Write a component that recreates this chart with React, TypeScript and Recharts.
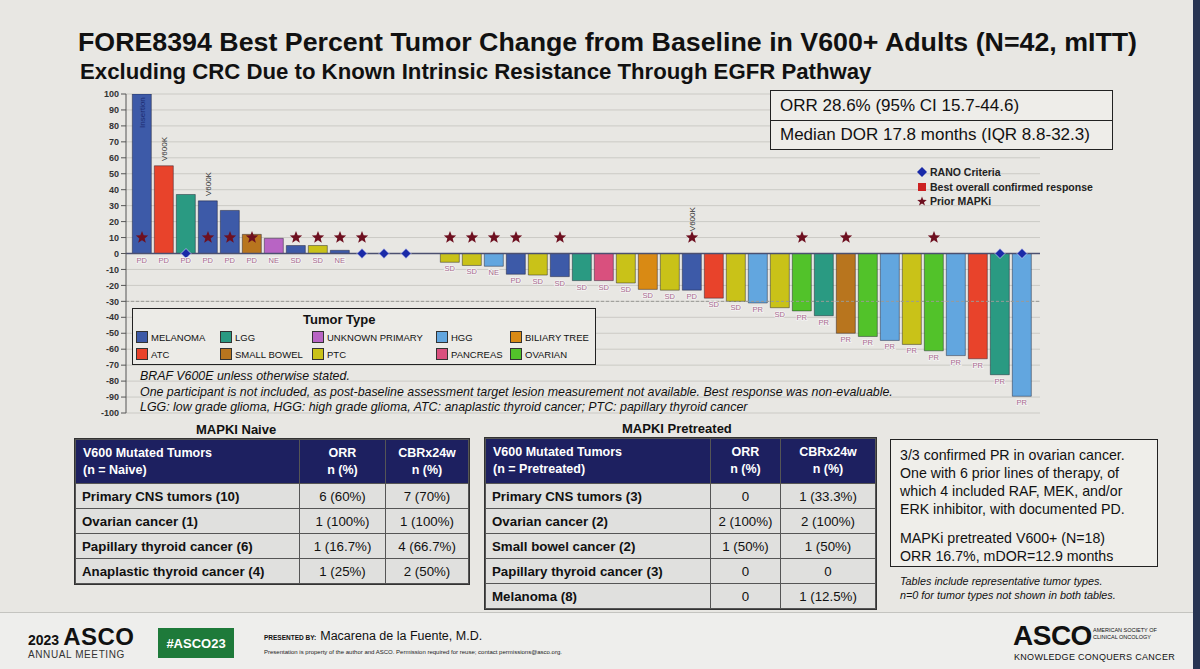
import React from 'react';
import {
  ComposedChart, Bar, Cell, XAxis, YAxis, CartesianGrid, ReferenceLine, Scatter, LabelList,
} from 'recharts';

// ---------- DATA ----------
const barIds = ['1','2','3','4','5','6','7','8','9','10','11','12','13','14','15','16','17','18','19','20','21','22','23','24','25','26','27','28','29','30','31','32','33','34','35','36','37','38','39','40','41'];
const tumorTypes = ['MEL','ATC','LGG','MEL','MEL','SB','UNK','MEL','PTC','MEL','LGG','HGG','LGG','PTC','PTC','PTC','HGG','MEL','PTC','MEL','LGG','PAN','PTC','BIL','PTC','MEL','ATC','PTC','HGG','PTC','OVA','LGG','SB','OVA','HGG','PTC','OVA','HGG','ATC','LGG','HGG'];
const changePct = [100, 55, 37, 33, 27, 12, 9.5, 5, 5, 2, 0, 0, 0, 0, -5.5, -7.5, -8, -13, -13.5, -14.5, -17, -17, -18.5, -22.5, -23, -23, -28, -30, -31, -34, -36, -39, -50, -52, -54.5, -57, -61, -64, -66, -76, -89.5];
const responses = ['PD','PD','PD','PD','PD','PD','NE','SD','SD','NE','SD','SD','SD','SD','SD','SD','NE','PD','SD','SD','SD','SD','SD','SD','SD','PD','SD','SD','PR','SD','PR','PR','PR','PR','PR','PR','PR','PR','PR','PR','PR'];
const priorMapki = [1,0,0,1,1,1,0,1,1,1,1,0,0,0,1,1,1,1,0,1,0,0,0,0,0,1,0,0,0,0,1,0,1,0,0,0,1,0,0,0,0];
const ranoCriteria = [0,0,1,0,0,0,0,0,0,0,1,1,1,0,0,0,0,0,0,0,0,0,0,0,0,0,0,0,0,0,0,0,0,0,0,0,0,0,0,1,1];
const variantNotes = ['Insertion','V600K','','V600K','','','','','','','','','','','','','','','','','','','','','','V600K','','','','','','','','','','','','','','',''];
const variantNoteAt = [98, 58, null, 36, null, null, null, null, null, null, null, null, null, null, null, null, null, null, null, null, null, null, null, null, null, 14, null, null, null, null, null, null, null, null, null, null, null, null, null, null, null];
const starLevel = 10;
const yTicks = [100, 90, 80, 70, 60, 50, 40, 30, 20, 10, 0, -10, -20, -30, -40, -50, -60, -70, -80, -90, -100];

const typeColors: Record<string, string> = {
  MEL: '#3d5aa8', ATC: '#e8432b', LGG: '#2a9a82', SB: '#b8751e', UNK: '#b864c4',
  PTC: '#c9c218', HGG: '#62a6df', PAN: '#d9507e', BIL: '#d98a14', OVA: '#52c22a',
};
const legendRow1 = [['MEL', 'MELANOMA'], ['LGG', 'LGG'], ['UNK', 'UNKNOWN PRIMARY'], ['HGG', 'HGG'], ['BIL', 'BILIARY TREE']];
const legendRow2 = [['ATC', 'ATC'], ['SB', 'SMALL BOWEL'], ['PTC', 'PTC'], ['PAN', 'PANCREAS'], ['OVA', 'OVARIAN']];

const naiveRows = [
  ['Primary CNS tumors (10)', '6 (60%)', '7 (70%)'],
  ['Ovarian cancer (1)', '1 (100%)', '1 (100%)'],
  ['Papillary thyroid cancer (6)', '1 (16.7%)', '4 (66.7%)'],
  ['Anaplastic thyroid cancer (4)', '1 (25%)', '2 (50%)'],
];
const pretreatedRows = [
  ['Primary CNS tumors (3)', '0', '1 (33.3%)'],
  ['Ovarian cancer (2)', '2 (100%)', '2 (100%)'],
  ['Small bowel cancer (2)', '1 (50%)', '1 (50%)'],
  ['Papillary thyroid cancer (3)', '0', '0'],
  ['Melanoma (8)', '0', '1 (12.5%)'],
];

const data = barIds.map((id, i) => ({
  id,
  type: tumorTypes[i],
  pct: changePct[i],
  resp: responses[i],
  star: priorMapki[i] ? starLevel : null,
  rano: ranoCriteria[i] ? 0 : null,
  note: variantNotes[i],
  noteAt: variantNoteAt[i],
}));

// ---------- SHAPES ----------
function starPoints(cx: number, cy: number, R: number, r: number) {
  const pts: string[] = [];
  for (let k = 0; k < 10; k++) {
    const rad = k % 2 === 0 ? R : r;
    const a = -Math.PI / 2 + (k * Math.PI) / 5;
    pts.push(`${cx + rad * Math.cos(a)},${cy + rad * Math.sin(a)}`);
  }
  return pts.join(' ');
}
const StarShape = (p: any) => {
  if (!p || p.payload == null || p.payload.star == null || !isFinite(p.cy)) return <g />;
  return <polygon points={starPoints(p.cx, p.cy, 6.5, 2.8)} fill="#6e1020" />;
};
const DiamondShape = (p: any) => {
  if (!p || p.payload == null || p.payload.rano == null || !isFinite(p.cy)) return <g />;
  const s = 5;
  return <polygon points={`${p.cx},${p.cy - s} ${p.cx + s},${p.cy} ${p.cx},${p.cy + s} ${p.cx - s},${p.cy}`} fill="#1a2aa8" stroke="#e8e8ff" strokeWidth={0.6} />;
};
const NoteShape = (p: any) => {
  if (!p || p.payload == null || !p.payload.note || !isFinite(p.cy)) return <g />;
  const inside = p.payload.pct > 90;
  return (
    <text
      x={p.cx + 3}
      y={p.cy}
      transform={`rotate(-90 ${p.cx + 3} ${p.cy})`}
      textAnchor={inside ? 'end' : 'start'}
      fontSize={8}
      fill={inside ? '#1c2a70' : '#333'}
      fontFamily="Arial, 'Liberation Sans', sans-serif"
    >
      {p.payload.note}
    </text>
  );
};
const RespLabel = (p: any) => {
  const { x, y, width, height, value } = p;
  if (value == null) return null;
  const bottom = Math.max(y, y + height);
  return (
    <text
      x={x + width / 2}
      y={bottom + 9}
      textAnchor="middle"
      fontSize={7.5}
      fill="#a86a8c"
      stroke="#f4f4f4"
      strokeWidth={1.6}
      paintOrder="stroke"
      fontFamily="Arial, 'Liberation Sans', sans-serif"
    >
      {value}
    </text>
  );
};

// ---------- STYLES ----------
const abs = (left: number, top: number, extra: React.CSSProperties = {}): React.CSSProperties => ({
  position: 'absolute', left, top, ...extra,
});
const font = "Arial, 'Liberation Sans', Helvetica, sans-serif";

function DataTable({ left, top, colWidths, headerH, rowH, first, rows, title, titleLeft }: any) {
  const cellBase: React.CSSProperties = {
    border: '1px solid #555', padding: '0 6px', fontSize: 13.3, color: '#111', background: '#e0e0de',
    height: rowH, boxSizing: 'border-box', whiteSpace: 'nowrap',
  };
  const th: React.CSSProperties = {
    background: '#1d2060', color: '#fff', fontSize: 12.5, fontWeight: 700, lineHeight: '17px', border: '1px solid #555',
  };
  return (
    <>
      <div style={abs(titleLeft, top - 17, { fontSize: 13, fontWeight: 700, color: '#111' })}>{title}</div>
      <table style={{ position: 'absolute', left, top, borderCollapse: 'collapse', fontFamily: font, tableLayout: 'fixed', outline: '1.5px solid #333' }}>
        <colgroup>
          {colWidths.map((w: number, i: number) => <col key={i} style={{ width: w }} />)}
        </colgroup>
        <thead>
          <tr style={{ height: headerH }}>
            <th style={{ ...th, textAlign: 'left', padding: '0 7px' }}>
              V600 Mutated Tumors<br />{first}
            </th>
            <th style={{ ...th, textAlign: 'center' }}>
              ORR<br />n (%)
            </th>
            <th style={{ ...th, textAlign: 'center' }}>
              CBRx24w<br />n (%)
            </th>
          </tr>
        </thead>
        <tbody>
          {rows.map((r: string[], i: number) => (
            <tr key={i}>
              <td style={{ ...cellBase, fontWeight: 700 }}>{r[0]}</td>
              <td style={{ ...cellBase, textAlign: 'center' }}>{r[1]}</td>
              <td style={{ ...cellBase, textAlign: 'center' }}>{r[2]}</td>
            </tr>
          ))}
        </tbody>
      </table>
    </>
  );
}

export default function App() {
  return (
    <div style={{ position: 'absolute', left: 0, top: 0, width: 1200, height: 669, overflow: 'hidden', background: '#e8e7e3', fontFamily: font, color: '#111' }}>
      {/* Title */}
      <div style={abs(78, 27, { fontSize: 26.5, fontWeight: 700, whiteSpace: 'nowrap', transform: 'scaleX(1.01)', transformOrigin: 'left center' })}>
        FORE8394 Best Percent Tumor Change from Baseline in V600+ Adults (N=42, mITT)
      </div>
      <div style={abs(80, 59, { fontSize: 22.2, fontWeight: 700, whiteSpace: 'nowrap' })}>
        Excluding CRC Due to Known Intrinsic Resistance Through EGFR Pathway
      </div>

      {/* Chart */}
      <div style={abs(60, 85)}>
        <ComposedChart width={1000} height={340} data={data} margin={{ top: 9, right: 20, bottom: 12, left: 0 }} barCategoryGap="6%">
          <CartesianGrid vertical={false} stroke="#cbcac5" />
          <XAxis dataKey="id" hide padding={{ left: 5, right: 7 }} />
          <YAxis
            width={66}
            domain={[-100, 100]}
            ticks={yTicks}
            interval={0}
            allowDataOverflow
            tick={{ fontSize: 9, fontWeight: 700, fill: '#333', fontFamily: font }}
            tickSize={5}
            axisLine={{ stroke: '#555' }}
            tickLine={{ stroke: '#555' }}
          />
          <ReferenceLine y={-30} stroke="#9a9a96" strokeDasharray="3 2" />
          <Bar dataKey="pct" isAnimationActive={false} stroke="rgba(20,20,40,0.55)" strokeWidth={0.8}>
            {data.map((d, i) => <Cell key={i} fill={typeColors[d.type]} />)}
            <LabelList dataKey="resp" content={RespLabel} />
          </Bar>
          <ReferenceLine y={0} stroke="#4b5070" strokeWidth={1.5} />
          <Scatter dataKey="star" isAnimationActive={false} shape={StarShape} />
          <Scatter dataKey="rano" isAnimationActive={false} shape={DiamondShape} />
          <Scatter dataKey="noteAt" isAnimationActive={false} shape={NoteShape} />
        </ComposedChart>
      </div>

      {/* ORR box */}
      <div style={abs(770, 90, { width: 343, height: 60, border: '1.5px solid #222', boxSizing: 'border-box', background: '#eeede9' })}>
        <div style={{ height: 29, borderBottom: '1.5px solid #222', fontSize: 17, lineHeight: '29px', paddingLeft: 9 }}>ORR 28.6% (95% CI 15.7-44.6)</div>
        <div style={{ fontSize: 17, lineHeight: '28px', paddingLeft: 9 }}>Median DOR 17.8 months (IQR 8.8-32.3)</div>
      </div>

      {/* Marker legend */}
      <div style={abs(917, 165, { fontSize: 10.5, fontWeight: 700, lineHeight: '14.5px', color: '#222' })}>
        <div style={{ display: 'flex', alignItems: 'center' }}>
          <svg width={10} height={10} style={{ marginRight: 3 }}><polygon points="5,0 10,5 5,10 0,5" fill="#1a2aa8" /></svg>RANO Criteria
        </div>
        <div style={{ display: 'flex', alignItems: 'center' }}>
          <svg width={10} height={10} style={{ marginRight: 3 }}><rect x={1} y={1} width={8} height={8} fill="#cc2222" /></svg>Best overall confirmed response
        </div>
        <div style={{ display: 'flex', alignItems: 'center' }}>
          <svg width={10} height={10} style={{ marginRight: 3 }}><polygon points={starPoints(5, 5.5, 5, 2.1)} fill="#6e1020" /></svg>Prior MAPKi
        </div>
      </div>

      {/* Tumor type legend */}
      <div style={abs(132, 308, { width: 464, height: 57, border: '1.5px solid #222', boxSizing: 'border-box', background: '#ecebe7' })}>
        <div style={abs(170, 3, { fontSize: 13, fontWeight: 700 })}>Tumor Type</div>
        {[legendRow1, legendRow2].map((row, ri) =>
          row.map(([k, label], ci) => {
            const xs = [3, 87, 179, 303, 377];
            return (
              <div key={`${ri}-${ci}`} style={abs(xs[ci], 22 + ri * 17, { display: 'flex', alignItems: 'center', fontSize: 9.5, whiteSpace: 'nowrap' })}>
                <div style={{ width: 12, height: 12, background: typeColors[k], border: '1px solid #333', boxSizing: 'border-box', marginRight: 3 }} />
                {label}
              </div>
            );
          })
        )}
      </div>

      {/* Footnotes */}
      <div style={abs(140, 369, { fontSize: 12.4, fontStyle: 'italic', lineHeight: '15.5px', whiteSpace: 'nowrap' })}>
        <div>BRAF V600E unless otherwise stated.</div>
        <div>One participant is not included, as post-baseline assessment target lesion measurement not available. Best response was non-evaluable.</div>
        <div>LGG: low grade glioma, HGG: high grade glioma, ATC: anaplastic thyroid cancer; PTC: papillary thyroid cancer</div>
      </div>

      {/* Tables */}
      <DataTable left={75} top={439} colWidths={[224, 86, 83]} headerH={44} rowH={25} first="(n = Naive)" rows={naiveRows} title="MAPKI Naive" titleLeft={196} />
      <DataTable left={485} top={438} colWidths={[225, 70, 95]} headerH={45} rowH={25} first="(n = Pretreated)" rows={pretreatedRows} title="MAPKI Pretreated" titleLeft={622} />

      {/* Note box */}
      <div style={abs(890, 439, { width: 268, height: 128, border: '1.5px solid #222', boxSizing: 'border-box', background: '#efeeea', padding: '6px 9px', fontSize: 14.2, lineHeight: '18px', whiteSpace: 'nowrap' })}>
        <div>3/3 confirmed PR in ovarian cancer.</div>
        <div>One with 6 prior lines of therapy, of</div>
        <div>which 4 included RAF, MEK, and/or</div>
        <div>ERK inhibitor, with documented PD.</div>
        <div style={{ marginTop: 11 }}>MAPKi pretreated V600+ (N=18)</div>
        <div>ORR 16.7%, mDOR=12.9 months</div>
      </div>
      <div style={abs(900, 574, { fontSize: 10.8, fontStyle: 'italic', lineHeight: '14px', whiteSpace: 'nowrap' })}>
        <div>Tables include representative tumor types.</div>
        <div>n=0 for tumor types not shown in both tables.</div>
      </div>

      {/* Footer */}
      <div style={abs(0, 612, { width: 1200, height: 57, background: '#eeeeec', borderTop: '1px solid #c4c4c0' })}>
        <div style={abs(28, 10, { whiteSpace: 'nowrap', display: 'flex', alignItems: 'baseline' })}>
          <span style={{ fontSize: 14, fontWeight: 700, marginRight: 4 }}>2023</span>
          <span style={{ fontSize: 24, fontWeight: 700, letterSpacing: 0.5 }}>ASCO</span>
        </div>
        <div style={abs(28, 36, { fontSize: 10, letterSpacing: 0.6, color: '#333' })}>ANNUAL MEETING</div>
        <div style={abs(158, 15, { width: 76, height: 30, background: '#1e7a3a', color: '#fff', fontSize: 13, fontWeight: 700, display: 'flex', alignItems: 'center', justifyContent: 'center' })}>#ASCO23</div>
        <div style={abs(264, 16, { whiteSpace: 'nowrap', display: 'flex', alignItems: 'baseline' })}>
          <span style={{ fontSize: 6.5, fontWeight: 700, marginRight: 4 }}>PRESENTED BY:</span>
          <span style={{ fontSize: 12.5 }}>Macarena de la Fuente, M.D.</span>
        </div>
        <div style={abs(264, 36, { fontSize: 6, whiteSpace: 'nowrap', color: '#222' })}>Presentation is property of the author and ASCO. Permission required for reuse; contact permissions@asco.org.</div>
        <div style={abs(1013, 7, { fontSize: 28, fontWeight: 700, letterSpacing: -0.5 })}>ASCO</div>
        <div style={abs(1093, 14, { fontSize: 5.5, lineHeight: '7px', whiteSpace: 'nowrap' })}>AMERICAN SOCIETY OF<br />CLINICAL ONCOLOGY</div>
        <div style={abs(1014, 39, { fontSize: 9, letterSpacing: 0.3, whiteSpace: 'nowrap' })}>KNOWLEDGE CONQUERS CANCER</div>
      </div>
      <div style={abs(1193, 0, { width: 7, height: 669, background: '#273452' })} />
    </div>
  );
}
